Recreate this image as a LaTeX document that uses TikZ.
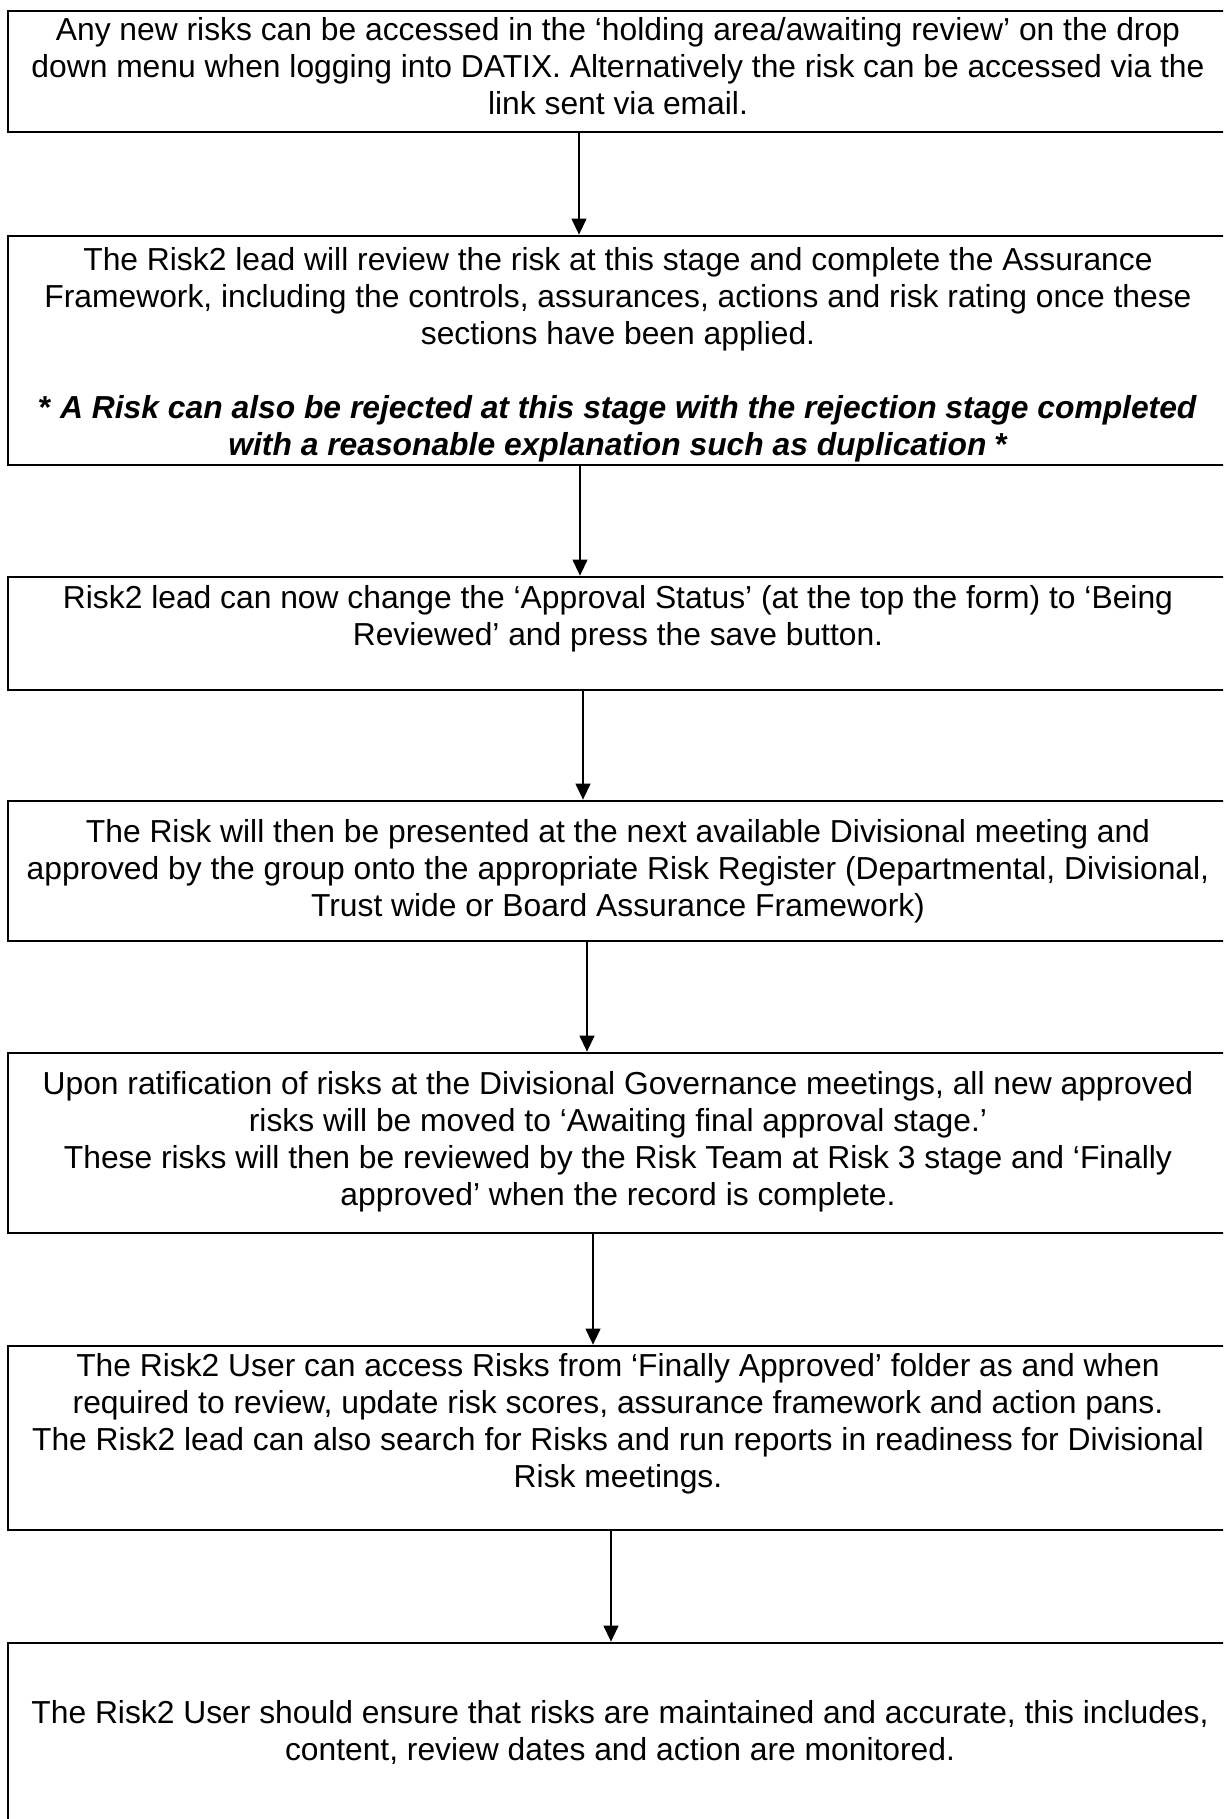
\documentclass[tikz,border=0pt]{standalone}
\usepackage{fontspec}
\setmainfont{Liberation Sans}
\usetikzlibrary{arrows.meta,fit}
\tikzset{
	box/.style={draw,line width=1.4pt,inner sep=0pt},
	txt/.style={align=center,inner sep=0pt,anchor=base,font=\fontsize{15.9}{18.5}\selectfont},
	arr/.style={line width=0.65pt,-{Triangle[width=7.5pt,length=8pt]}}
}
\begin{document}
\begin{tikzpicture}[x=0.5pt,y=-0.5pt]
	\useasboundingbox (0,0) rectangle (1223,1819);
	\clip (0,0) rectangle (1223,1819);
	\node[box,fit={(8,11) (1228,132)}] (b1) {};
	\node[box,fit={(8,236) (1228,465)}] (b2) {};
	\node[box,fit={(8,577) (1228,690)}] (b3) {};
	\node[box,fit={(8,801) (1228,941)}] (b4) {};
	\node[box,fit={(8,1053) (1228,1233)}] (b5) {};
	\node[box,fit={(8,1346) (1228,1530)}] (b6) {};
	\node[box,fit={(8,1643) (1228,1840)}] (b7) {};
	%	texts (base = last line)
	\node[txt] (t1) at (618,115) {Any new risks can be accessed in the ‘holding area/awaiting review’ on the drop\\
		down menu when logging into DATIX. Alternatively the risk can be accessed via the\\
		link sent via email.};
	\node[txt] (t2) at (618,455) {The Risk2 lead will review the risk at this stage and complete the Assurance\\
		Framework, including the controls, assurances, actions and risk rating once these\\
		sections have been applied.\\[18.5pt]
		\textbf{* \textit{A Risk can also be rejected at this stage with the rejection stage completed}}\\
		\textbf{\textit{with a reasonable explanation such as duplication} *}};
	\node[txt] (t3) at (618,645) {Risk2 lead can now change the ‘Approval Status’ (at the top the form) to ‘Being\\
		Reviewed’ and press the save button.};
	\node[txt] (t4) at (618,916) {The Risk will then be presented at the next available Divisional meeting and\\
		approved by the group onto the appropriate Risk Register (Departmental, Divisional,\\
		Trust wide or Board Assurance Framework)};
	\node[txt] (t5) at (618,1205) {Upon ratification of risks at the Divisional Governance meetings, all new approved\\
		risks will be moved to ‘Awaiting final approval stage.’\\
		These risks will then be reviewed by the Risk Team at Risk 3 stage and ‘Finally\\
		approved’ when the record is complete.};
	\node[txt] (t6) at (618,1487) {The Risk2 User can access Risks from ‘Finally Approved’ folder as and when\\
		required to review, update risk scores, assurance framework and action pans.\\
		The Risk2 lead can also search for Risks and run reports in readiness for Divisional\\
		Risk meetings.};
	\node[txt] (t7) at (620,1760) {The Risk2 User should ensure that risks are maintained and accurate, this includes,\\
		content, review dates and action are monitored.};
	%	arrows
	\foreach \a/\b/\x in {b1/b2/579,b2/b3/580,b3/b4/583,b4/b5/587,b5/b6/593,b6/b7/611}
	\draw[arr] (\x,0 |- \a.south) -- (\x,0 |- \b.north);
\end{tikzpicture}
\end{document}
